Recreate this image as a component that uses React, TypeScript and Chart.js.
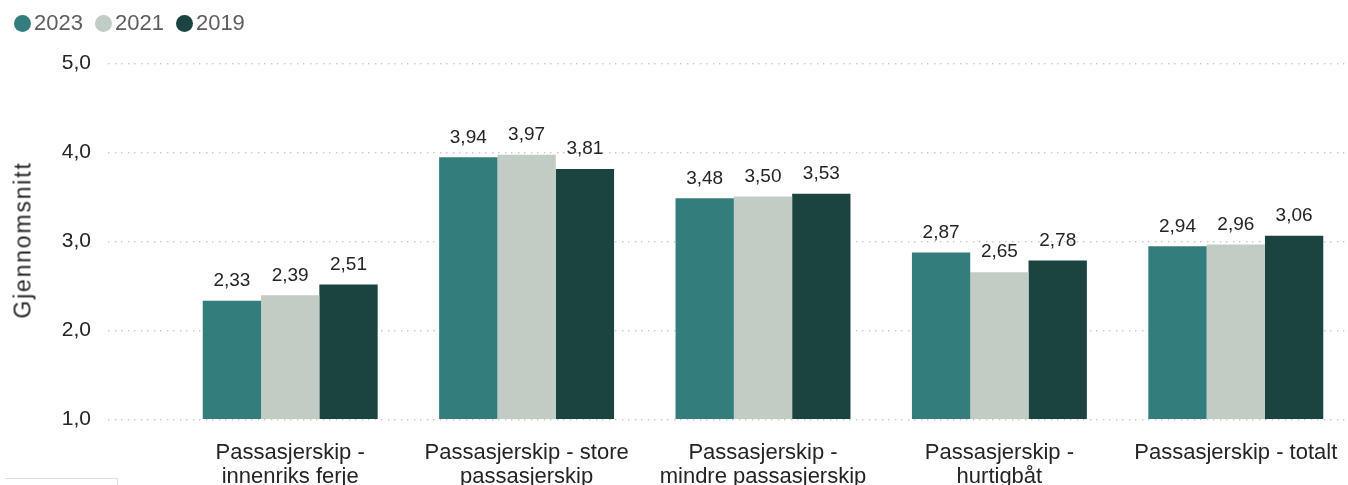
import React, { useEffect, useRef } from "react";
import { Chart, registerables } from "chart.js";

Chart.register(...registerables);

const categories: (string | string[])[] = [
  ["Passasjerskip -", "innenriks ferje"],
  ["Passasjerskip - store", "passasjerskip"],
  ["Passasjerskip -", "mindre passasjerskip"],
  ["Passasjerskip -", "hurtigbåt"],
  "Passasjerskip - totalt",
];
const series2023 = [2.33, 3.94, 3.48, 2.87, 2.94];
const series2021 = [2.39, 3.97, 3.5, 2.65, 2.96];
const series2019 = [2.51, 3.81, 3.53, 2.78, 3.06];
const seriesNames = ["2023", "2021", "2019"];
const seriesColors = ["#347D7D", "#C1CCC4", "#1B4440"];
const yTicks = [1, 2, 3, 4, 5];
const yTitle = "Gjennomsnitt";

const FONT = "'Liberation Sans', Arial, sans-serif";
const fmt = (v: number, d: number) => v.toFixed(d).replace(".", ",");

const gridPlugin = {
  id: "dottedGrid",
  beforeDatasetsDraw(chart: any) {
    const { ctx } = chart;
    const y = chart.scales.y;
    ctx.save();
    ctx.fillStyle = "#C8C6C4";
    yTicks.forEach((t) => {
      const py = Math.round(y.getPixelForValue(t));
      for (let x = 108; x < chart.width; x += 6.5) {
        ctx.fillRect(Math.round(x), py, 1.4, 1.4);
      }
    });
    ctx.restore();
  },
};

const labelPlugin = {
  id: "valueLabels",
  afterDatasetsDraw(chart: any) {
    const { ctx } = chart;
    ctx.save();
    ctx.font = `19px ${FONT}`;
    ctx.fillStyle = "#252423";
    ctx.textAlign = "center";
    ctx.textBaseline = "middle";
    chart.data.datasets.forEach((ds: any, i: number) => {
      const meta = chart.getDatasetMeta(i);
      meta.data.forEach((bar: any, j: number) => {
        ctx.fillText(fmt(ds.data[j], 2), bar.x, bar.y - 20);
      });
    });
    ctx.restore();
  },
};

export default function App() {
  const ref = useRef<HTMLCanvasElement>(null);
  useEffect(() => {
    if (!ref.current) return;
    const chart = new Chart(ref.current, {
      type: "bar",
      data: {
        labels: categories,
        datasets: [series2023, series2021, series2019].map((d, i) => ({
          label: seriesNames[i],
          data: d,
          backgroundColor: seriesColors[i],
          borderWidth: 0,
          categoryPercentage: 0.74,
          barPercentage: 1.0,
        })),
      },
      options: {
        responsive: false,
        animation: false,
        devicePixelRatio: 1,
        layout: { padding: { top: 63, left: 0, right: 0, bottom: 0 } },
        plugins: {
          legend: { display: false },
          tooltip: { enabled: false },
        },
        scales: {
          x: {
            type: "category",
            grid: { display: false, drawTicks: false },
            border: { display: false },
            ticks: {
              autoSkip: false,
              maxRotation: 0,
              minRotation: 0,
              padding: 22,
              color: "#252423",
              font: { family: FONT, size: 22, lineHeight: 1.09 },
            },
            afterFit: (s: any) => {
              s.height = 66;
              s.paddingLeft = 0;
              s.paddingRight = 0;
            },
          },
          y: {
            min: 1,
            max: 5,
            grid: { display: false, drawTicks: false },
            border: { display: false },
            ticks: {
              stepSize: 1,
              padding: 81,
              color: "#252423",
              font: { family: FONT, size: 21 },
              callback: (v: any) => fmt(Number(v), 1),
            },
            title: { display: false },
            afterFit: (s: any) => {
              s.width = 172;
              s.paddingTop = 0;
              s.paddingBottom = 0;
            },
          },
        },
      },
      plugins: [gridPlugin, labelPlugin],
    });
    return () => chart.destroy();
  }, []);

  return (
    <div
      style={{
        position: "absolute",
        left: 0,
        top: 0,
        width: 1348,
        height: 485,
        overflow: "hidden",
        background: "#fff",
      }}
    >
      <canvas ref={ref} width={1354} height={485} style={{ position: "absolute", left: 0, top: 0 }} />
      <div
        style={{
          position: "absolute",
          left: 23,
          top: 240,
          transform: "translate(-50%, -50%) rotate(-90deg)",
          whiteSpace: "nowrap",
          fontFamily: FONT,
          fontSize: 23,
          letterSpacing: "1.8px",
          color: "#252423",
          lineHeight: 1,
        }}
      >
        {yTitle}
      </div>
      <div
        style={{
          position: "absolute",
          left: 14,
          top: 9,
          display: "flex",
          alignItems: "center",
          fontFamily: FONT,
          fontSize: 22,
          lineHeight: "28px",
          color: "#605E5C",
        }}
      >
        {seriesNames.map((n, i) => (
          <div key={n} style={{ display: "flex", alignItems: "center", marginRight: 12 }}>
            <span
              style={{
                display: "inline-block",
                width: 17,
                height: 17,
                borderRadius: "50%",
                background: seriesColors[i],
                marginRight: 3,
              }}
            />
            <span>{n}</span>
          </div>
        ))}
      </div>
      <div
        style={{
          position: "absolute",
          left: 5,
          top: 478,
          width: 112,
          height: 20,
          borderTop: "1px solid #E1DFDD",
          borderRight: "1px solid #E1DFDD",
        }}
      />
    </div>
  );
}
